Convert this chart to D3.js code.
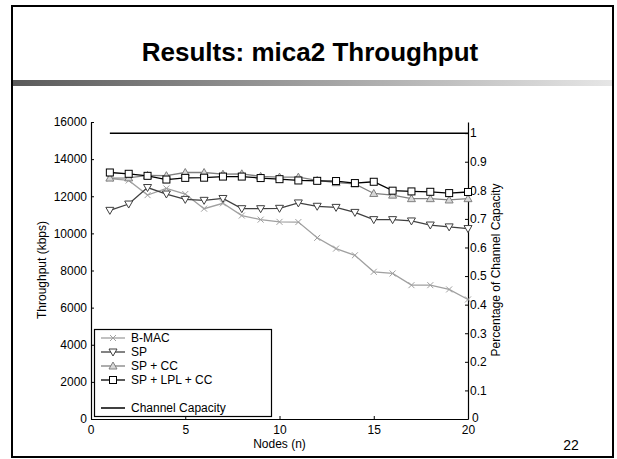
<!DOCTYPE html>
<html>
<head>
<meta charset="utf-8">
<script src="https://cdn.jsdelivr.net/npm/d3@7"></script>
<style>
  body { margin: 0; background: #fff; }
  text { font-family: "Liberation Sans", Arial, sans-serif; }
</style>
</head>
<body>
<svg id="slide" width="617" height="459"></svg>
<script>
// data
const nodes = d3.range(1, 21);
const bmac = [12950, 12850, 12060, 12420, 12120, 11330, 11620, 10960, 10740, 10620,
              10610, 9760, 9180, 8820, 7930, 7840, 7210, 7210, 6980, 6440];
const sp = [11240, 11580, 12470, 12120, 11830, 11780, 11880, 11330, 11330, 11350,
            11640, 11460, 11400, 11130, 10740, 10740, 10670, 10450, 10350, 10260];
const spcc = [12980, 12990, 13120, 13110, 13280, 13280, 13190, 13210, 13070, 13030,
              13030, 12850, 12730, 12670, 12150, 12060, 11870, 11870, 11800, 11870];
const splplcc = [13280, 13210, 13100, 12900, 12990, 13000, 13060, 13060, 12980, 12920,
                 12850, 12830, 12820, 12710, 12780, 12300, 12260, 12240, 12170, 12230];
const capacity = 15400;
const xTicks = [0, 5, 10, 15, 20];
const yTicks = [0, 2000, 4000, 6000, 8000, 10000, 12000, 14000, 16000];
const pTicks = [0, 0.1, 0.2, 0.3, 0.4, 0.5, 0.6, 0.7, 0.8, 0.9, 1];

const series = [
  { name: "B-MAC", values: bmac, color: "#a0a0a0", marker: "x" },
  { name: "SP", values: sp, color: "#404040", marker: "down" },
  { name: "SP + CC", values: spcc, color: "#808080", marker: "up" },
  { name: "SP + LPL + CC", values: splplcc, color: "#000", marker: "square" }
];

const svg = d3.select("#slide");

// slide frame, title and gradient rule
svg.append("rect")
  .attr("x", 12).attr("y", 6).attr("width", 601).attr("height", 451)
  .attr("fill", "none").attr("stroke", "#000").attr("stroke-width", 2);

const grad = svg.append("defs").append("linearGradient").attr("id", "rule");
grad.append("stop").attr("offset", "0%").attr("stop-color", "#5a5a5a");
grad.append("stop").attr("offset", "100%").attr("stop-color", "#e6e6e6");
svg.append("rect")
  .attr("x", 13).attr("y", 80).attr("width", 599).attr("height", 6)
  .attr("fill", "url(#rule)");

svg.append("text")
  .attr("x", 310).attr("y", 61)
  .attr("text-anchor", "middle")
  .attr("font-size", 26).attr("font-weight", "bold")
  .text("Results: mica2 Throughput");

svg.append("text")
  .attr("x", 571).attr("y", 450)
  .attr("text-anchor", "middle")
  .attr("font-size", 14)
  .text("22");

// chart
const x = d3.scaleLinear().domain([0, 20]).range([91, 468]);
const y = d3.scaleLinear().domain([0, 16000]).range([419, 122]);
const yp = d3.scaleLinear().domain([0, 16000 / capacity]).range([419, 122]);

const axisFont = g => g.selectAll("text")
  .attr("font-family", "Liberation Sans, Arial, sans-serif")
  .attr("font-size", 12).attr("fill", "#000");

svg.append("g")
  .attr("transform", `translate(0,${y(0)})`)
  .call(d3.axisTop(x).tickValues(xTicks).tickSize(3).tickSizeOuter(0).tickFormat(d => d === 0 ? "" : d))
  .call(g => g.select(".domain").attr("stroke-width", 1.2))
  .call(g => g.selectAll("text").attr("dy", null).attr("y", 15))
  .call(axisFont);
svg.append("text").attr("x", x(0)).attr("y", 434).attr("font-size", 12).attr("text-anchor", "middle").text("0");

svg.append("g")
  .attr("transform", `translate(${x(0)},0)`)
  .call(d3.axisRight(y).tickValues(yTicks).tickSize(3).tickSizeOuter(0).tickFormat(d => d === 0 ? "" : d))
  .call(g => g.select(".domain").attr("stroke-width", 1.2))
  .call(g => g.selectAll("text").attr("x", -4).attr("text-anchor", "end"))
  .call(axisFont);
svg.append("text").attr("x", 87).attr("y", 423).attr("font-size", 12).attr("text-anchor", "end").text("0");

svg.append("g")
  .attr("transform", `translate(${x(20)},0)`)
  .call(d3.axisLeft(yp).tickValues(pTicks).tickSize(3).tickSizeOuter(0).tickFormat(d => d === 0 ? "" : d))
  .call(g => g.select(".domain").attr("stroke-width", 1.2))
  .call(g => g.selectAll("text").attr("x", 2).attr("text-anchor", "start"))
  .call(axisFont);
svg.append("text").attr("x", 472).attr("y", 422).attr("font-size", 12).text("0");

svg.append("text")
  .attr("x", x(10)).attr("y", 448)
  .attr("text-anchor", "middle").attr("font-size", 12)
  .text("Nodes (n)");
svg.append("text")
  .attr("transform", "translate(46,270) rotate(-90)")
  .attr("text-anchor", "middle").attr("font-size", 12)
  .text("Throughput (kbps)");
svg.append("text")
  .attr("transform", "translate(500,270) rotate(-90)")
  .attr("text-anchor", "middle").attr("font-size", 12)
  .text("Percentage of Channel Capacity");

// capacity line
svg.append("line")
  .attr("x1", x(1)).attr("x2", x(20))
  .attr("y1", y(capacity)).attr("y2", y(capacity))
  .attr("stroke", "#000").attr("stroke-width", 1.5);

function drawMarker(g, type, color) {
  if (type === "x") {
    g.append("path").attr("d", "M-3,-3L3,3M-3,3L3,-3")
      .attr("stroke", color).attr("stroke-width", 1).attr("fill", "none");
  } else if (type === "down") {
    g.append("path").attr("d", "M-4,-3L4,-3L0,4Z")
      .attr("stroke", color).attr("fill", "#fff").attr("stroke-width", 1);
  } else if (type === "up") {
    g.append("path").attr("d", "M-4,3L4,3L0,-4Z")
      .attr("stroke", color).attr("fill", "#d8d8d8").attr("stroke-width", 1);
  } else {
    g.append("rect").attr("x", -3.5).attr("y", -3.5).attr("width", 7).attr("height", 7)
      .attr("stroke", color).attr("fill", "#fff").attr("stroke-width", 1);
  }
}

const line = d3.line().x((d, i) => x(nodes[i])).y(d => y(d));

series.forEach(s => {
  svg.append("path")
    .datum(s.values)
    .attr("d", line)
    .attr("fill", "none")
    .attr("stroke", s.color)
    .attr("stroke-width", 1.3);
  s.values.forEach((v, i) => {
    const g = svg.append("g").attr("transform", `translate(${x(nodes[i])},${y(v)})`);
    drawMarker(g, s.marker, s.color);
  });
});

// legend
const legend = svg.append("g");
legend.append("rect")
  .attr("x", 94.5).attr("y", 329.5).attr("width", 177).attr("height", 87)
  .attr("fill", "#fff").attr("stroke", "#000").attr("stroke-width", 1.2);
const legendRows = [
  ...series.map(s => ({ name: s.name, color: s.color, marker: s.marker })),
  { name: "", color: null, marker: null },
  { name: "Channel Capacity", color: "#000", marker: null }
];
legendRows.forEach((r, i) => {
  if (!r.color) return;
  const ly = 338 + i * 14;
  legend.append("line")
    .attr("x1", 101).attr("x2", 125).attr("y1", ly).attr("y2", ly)
    .attr("stroke", r.color).attr("stroke-width", r.marker ? 1.3 : 1.5);
  if (r.marker) drawMarker(legend.append("g").attr("transform", `translate(113,${ly})`), r.marker, r.color);
  legend.append("text")
    .attr("x", 131).attr("y", ly + 4)
    .attr("font-size", 12)
    .text(r.name);
});
</script>
</body>
</html>
